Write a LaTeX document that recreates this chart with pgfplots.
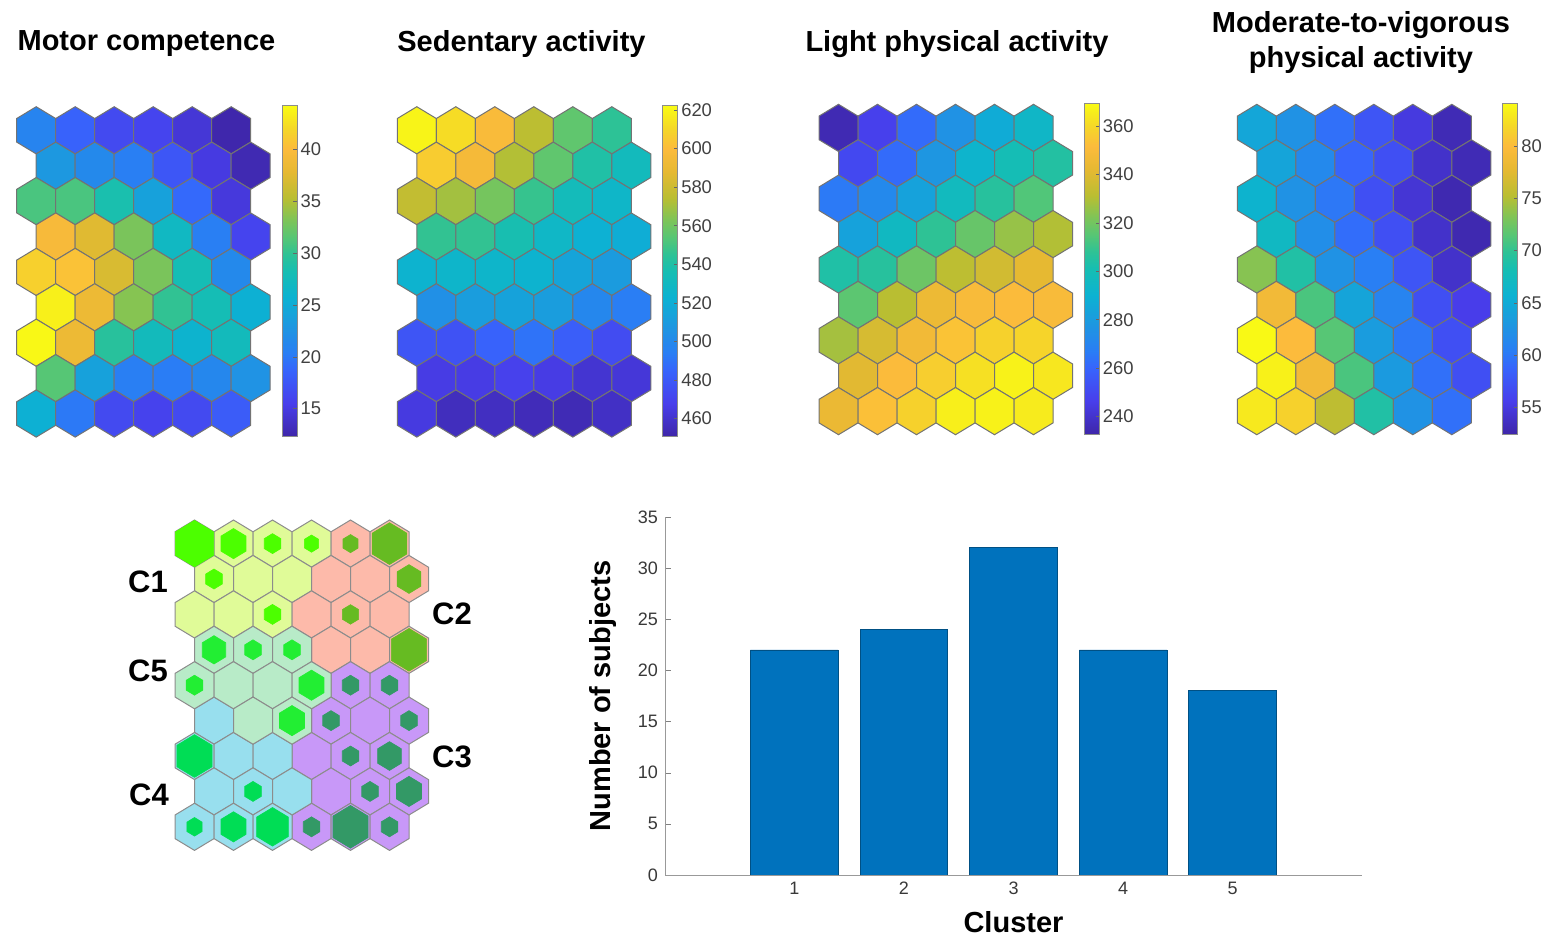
\documentclass[border=0pt]{standalone}
\usepackage{fontspec}
\setmainfont{Liberation Sans}
\usepackage{pgfplots}
\pgfplotsset{compat=1.18}
\usepackage{pgfplotstable}

\definecolor{matblue}{RGB}{0,114,189}
\definecolor{cA}{RGB}{224,251,152}
\definecolor{cB}{RGB}{253,186,170}
\definecolor{cC}{RGB}{200,152,248}
\definecolor{cD}{RGB}{152,223,238}
\definecolor{cE}{RGB}{184,235,200}
\definecolor{iA}{RGB}{76,255,0}
\definecolor{iB}{RGB}{102,187,34}
\definecolor{iC}{RGB}{51,153,102}
\definecolor{iD}{RGB}{0,221,85}
\definecolor{iE}{RGB}{34,238,51}

\pgfdeclareplotmark{hexagon}{%
 \pgfpathmoveto{\pgfqpoint{0pt}{1.21\pgfplotmarksize}}%
 \pgfpathlineto{\pgfqpoint{\pgfplotmarksize}{0.605\pgfplotmarksize}}%
 \pgfpathlineto{\pgfqpoint{\pgfplotmarksize}{-0.605\pgfplotmarksize}}%
 \pgfpathlineto{\pgfqpoint{0pt}{-1.21\pgfplotmarksize}}%
 \pgfpathlineto{\pgfqpoint{-\pgfplotmarksize}{-0.605\pgfplotmarksize}}%
 \pgfpathlineto{\pgfqpoint{-\pgfplotmarksize}{0.605\pgfplotmarksize}}%
 \pgfpathclose
 \pgfusepathqfillstroke}

\pgfplotsset{
 colormap={parula}{
  rgb255(0cm)=(62,38,168);
  rgb255(10cm)=(72,62,235);
  rgb255(20cm)=(55,100,252);
  rgb255(25cm)=(42,125,245);
  rgb255(33cm)=(30,150,225);
  rgb255(42cm)=(12,178,210);
  rgb255(50cm)=(22,190,178);
  rgb255(55cm)=(45,194,150);
  rgb255(60cm)=(85,198,118);
  rgb255(66cm)=(130,196,85);
  rgb255(72cm)=(185,190,50);
  rgb255(80cm)=(230,185,50);
  rgb255(87cm)=(252,187,60);
  rgb255(93cm)=(245,215,40);
  rgb255(100cm)=(249,251,20)
 },
 hexbase/.style={
  scale only axis, x=19.5pt, y=17.7pt, y dir=reverse,
  xmin=0.5, xmax=7, ymin=0.333, ymax=9.667,
  hide axis, clip=false, anchor=north west
 },
 hexcb/.style={
  hexbase, colormap name=parula, colorbar,
  colorbar style={
   at={(parent axis.north east)}, anchor=north west, xshift=-2.5pt, yshift=0.5pt,
   width=7.5pt, height=165.5pt,
   ytick pos=right, yticklabel pos=right, ytick align=inside,
   major tick length=2pt,
   axis line style={draw=black!45},
   tick style={draw=black!60},
   yticklabel style={font=\fontsize{9.2}{10}\selectfont, text=black!75, inner sep=1.5pt},
   /pgf/number format/assume math mode=true
  }
 },
 hexplot/.style={
  scatter, only marks, mark=hexagon, mark size=9.75pt, line width=0.5pt,
  point meta=explicit,
  scatter/use mapped color={draw=black!55, fill=mapped color}
 },
 innerhex/.style={
  scatter, only marks, mark=hexagon, line width=0.3pt,
  scatter/use mapped color={draw=#1, fill=#1},
  visualization depends on={\thisrow{s} \as \sz},
  scatter/@pre marker code/.append style={/tikz/mark size=\sz*9.6pt}
 }
}

\pgfplotstableread{
x y v
1 1 21
2 1 18.5
3 1 16.5
4 1 16
5 1 14.5
6 1 12.5
1.5 2 23
2.5 2 21.5
3.5 2 20.5
4.5 2 17.5
5.5 2 15
6.5 2 12.8
1 3 31
2 3 31
3 3 28.5
4 3 24
5 3 19
6 3 14.8
1.5 4 39.5
2.5 4 37.5
3.5 4 33
4.5 4 27
5.5 4 20.5
6.5 4 16
1 5 41.5
2 5 40.5
3 5 37
4 5 33
5 5 28
6 5 21.5
1.5 6 43.5
2.5 6 38.5
3.5 6 33.5
4.5 6 30
5.5 6 28
6.5 6 25.5
1 7 44
2 7 38.5
3 7 29.5
4 7 27.5
5 7 26
6 7 27.5
1.5 8 31.5
2.5 8 24
3.5 8 20.5
4.5 8 20.3
5.5 8 21.3
6.5 8 22.5
1 9 25.5
2 9 20
3 9 16.5
4 9 15.8
5 9 16.5
6 9 18
}\motor

\pgfplotstableread{
x y v
1 1 620
2 1 612
3 1 598
4 1 575
5 1 556
6 1 545
1.5 2 606
2.5 2 596
3.5 2 573
4.5 2 556
5.5 2 540
6.5 2 532
1 3 577
2 3 570
3 3 561
4 3 547
5 3 533
6 3 527
1.5 4 546
2.5 4 546
3.5 4 537
4.5 4 528
5.5 4 522
6.5 4 520
1 5 524
2 5 526
3 5 526
4 5 524
5 5 515
6 5 510
1.5 6 504
2.5 6 511
3.5 6 514
4.5 6 511
5.5 6 499
6.5 6 494
1 7 478
2 7 477
3 7 484
4 7 490
5 7 482
6 7 474
1.5 8 466
2.5 8 466
3.5 8 469
4.5 8 466
5.5 8 461
6.5 8 463
1 9 465
2 9 456
3 9 457
4 9 455
5 9 454
6 9 458
}\sedentary

\pgfplotstableread{
x y v
1 1 235
2 1 247
3 1 262
4 1 276
5 1 287
6 1 294
1.5 2 250
2.5 2 262
3.5 2 278
4.5 2 292
5.5 2 300
6.5 2 305
1 3 266
2 3 272
3 3 283
4 3 297
5 3 306
6 3 314
1.5 4 283
2.5 4 296
3.5 4 308
4.5 4 318
5.5 4 326
6.5 4 330
1 5 304
2 5 306
3 5 319
4 5 332
5 5 337
6 5 342
1.5 6 316
2.5 6 331
3.5 6 345
4.5 6 350
5.5 6 351
6.5 6 350
1 7 328
2 7 338
3 7 347
4 7 354
5 7 358
6 7 359
1.5 8 341
2.5 8 351
3.5 8 357
4.5 8 362
5.5 8 367
6.5 8 364
1 9 344
2 9 353
3 9 358
4 9 366
5 9 367
6 9 365
}\light

\pgfplotstableread{
x y v
1 1 64.5
2 1 62.5
3 1 59.5
4 1 57.5
5 1 55
6 1 53
1.5 2 64.3
2.5 2 61.5
3.5 2 58.8
4.5 2 57
5.5 2 54
6.5 2 53
1 3 66
2 3 62.5
3 3 60
4 3 57
5 3 54.5
6 3 52.8
1.5 4 67
2.5 4 62
3.5 4 59.3
4.5 4 57
5.5 4 54
6.5 4 52.8
1 5 73.5
2 5 69
3 5 62.5
4 5 60.5
5 5 57.5
6 5 54
1.5 6 79
2.5 6 71
3.5 6 64.3
4.5 6 61
5.5 6 57
6.5 6 55.5
1 7 84
2 7 80
3 7 71.5
4 7 63.5
5 7 60
6 7 57
1.5 8 83.5
2.5 8 79
3.5 8 71
4.5 8 63.3
5.5 8 59.5
6.5 8 57
1 9 83
2 9 81.5
3 9 75.5
4 9 69
5 9 62.5
6 9 59.5
}\mvpa

% cluster membership of the map units
\pgfplotstableread{
x y
1 1
2 1
3 1
4 1
1.5 2
2.5 2
3.5 2
1 3
2 3
3 3
}\clA
\pgfplotstableread{
x y
5 1
6 1
4.5 2
5.5 2
6.5 2
4 3
5 3
6 3
4.5 4
5.5 4
6.5 4
}\clB
\pgfplotstableread{
x y
5 5
6 5
4.5 6
5.5 6
6.5 6
4 7
5 7
6 7
4.5 8
5.5 8
6.5 8
4 9
5 9
6 9
}\clC
\pgfplotstableread{
x y
1.5 6
1 7
2 7
3 7
1.5 8
2.5 8
3.5 8
1 9
2 9
3 9
}\clD
\pgfplotstableread{
x y
1.5 4
2.5 4
3.5 4
1 5
2 5
3 5
4 5
2.5 6
3.5 6
}\clE
% relative size of the inner hexagons (hits)
\pgfplotstableread{
x y s
1 1 1.0
2 1 0.65
3 1 0.43
4 1 0.37
1.5 2 0.43
3 3 0.43
}\inA
\pgfplotstableread{
x y s
5 1 0.39
6 1 0.9
6.5 2 0.62
5 3 0.42
6.5 4 0.92
}\inB
\pgfplotstableread{
x y s
5 5 0.43
6 5 0.43
4.5 6 0.43
6.5 6 0.43
5 7 0.43
6 7 0.62
5.5 8 0.43
6.5 8 0.65
4 9 0.43
5 9 0.92
6 9 0.43
}\inC
\pgfplotstableread{
x y s
1 7 0.92
2.5 8 0.43
1 9 0.4
2 9 0.65
3 9 0.83
}\inD
\pgfplotstableread{
x y s
1.5 4 0.61
2.5 4 0.43
3.5 4 0.43
1 5 0.43
4 5 0.65
3.5 6 0.65
}\inE

\begin{document}
\begin{tikzpicture}
\path[use as bounding box] (0pt,0pt) rectangle (777pt,-470pt);

% titles
\node[font=\bfseries\fontsize{14.5}{16}\selectfont] at (73.25pt,-22pt) {Motor competence};
\node[font=\bfseries\fontsize{14.5}{16}\selectfont] at (260.75pt,-22pt) {Sedentary activity};
\node[font=\bfseries\fontsize{14.5}{16}\selectfont] at (478.5pt,-22pt) {Light physical activity};
\node[font=\bfseries\fontsize{14.5}{16}\selectfont] at (680.5pt,-12.5pt) {Moderate-to-vigorous};
\node[font=\bfseries\fontsize{14.5}{16}\selectfont] at (680.5pt,-30pt) {physical activity};

% Motor competence
\begin{axis}[hexcb, at={(8.35pt,-53.35pt)},
  point meta min=12.3, point meta max=44.2,
  colorbar style={ytick={15,20,25,30,35,40}}]
\addplot[hexplot] table[x=x,y=y,meta=v] {\motor};
\end{axis}

% Sedentary activity
\begin{axis}[hexcb, at={(198.65pt,-53.35pt)},
  point meta min=450.6, point meta max=622.2,
  colorbar style={ytick={460,480,...,620}}]
\addplot[hexplot] table[x=x,y=y,meta=v] {\sedentary};
\end{axis}

% Light physical activity
\begin{axis}[hexcb, at={(409.5pt,-52.15pt)},
  point meta min=232.7, point meta max=369.3,
  colorbar style={ytick={240,260,...,360}}]
\addplot[hexplot] table[x=x,y=y,meta=v] {\light};
\end{axis}

% MVPA
\begin{axis}[hexcb, at={(618.65pt,-52.15pt)},
  point meta min=52.4, point meta max=84.1,
  colorbar style={ytick={55,60,...,80}}]
\addplot[hexplot] table[x=x,y=y,meta=v] {\mvpa};
\end{axis}

% cluster map
\begin{axis}[hexbase, at={(87.5pt,-260pt)}]
\addplot[only marks, mark=hexagon, mark size=9.75pt, line width=0.5pt, mark options={fill=cA, draw=black!45}] table[x=x,y=y] {\clA};
\addplot[only marks, mark=hexagon, mark size=9.75pt, line width=0.5pt, mark options={fill=cB, draw=black!45}] table[x=x,y=y] {\clB};
\addplot[only marks, mark=hexagon, mark size=9.75pt, line width=0.5pt, mark options={fill=cC, draw=black!45}] table[x=x,y=y] {\clC};
\addplot[only marks, mark=hexagon, mark size=9.75pt, line width=0.5pt, mark options={fill=cD, draw=black!45}] table[x=x,y=y] {\clD};
\addplot[only marks, mark=hexagon, mark size=9.75pt, line width=0.5pt, mark options={fill=cE, draw=black!45}] table[x=x,y=y] {\clE};
\addplot[innerhex=iA] table[x=x,y=y] {\inA};
\addplot[innerhex=iB] table[x=x,y=y] {\inB};
\addplot[innerhex=iC] table[x=x,y=y] {\inC};
\addplot[innerhex=iD] table[x=x,y=y] {\inD};
\addplot[innerhex=iE] table[x=x,y=y] {\inE};
\end{axis}

\node[font=\bfseries\fontsize{15.5}{17}\selectfont] at (74pt,-291pt) {C1};
\node[font=\bfseries\fontsize{15.5}{17}\selectfont] at (74pt,-335.5pt) {C5};
\node[font=\bfseries\fontsize{15.5}{17}\selectfont] at (74.5pt,-397.5pt) {C4};
\node[font=\bfseries\fontsize{15.5}{17}\selectfont] at (226pt,-307pt) {C2};
\node[font=\bfseries\fontsize{15.5}{17}\selectfont] at (226pt,-378.5pt) {C3};

% bar chart
\begin{axis}[at={(332.5pt,-437.5pt)}, anchor=south west, scale only axis,
  width=348.5pt, height=179pt, ybar,
  xmin=-0.18, xmax=6.18, ymin=0, ymax=35,
  axis x line*=bottom, axis y line*=left,
  axis line style={draw=black!40, -},
  xtick={1,2,3,4,5}, ytick={0,5,...,35},
  tick align=inside, major tick length=3pt, tick style={draw=black!50},
  ticklabel style={font=\fontsize{9}{10}\selectfont, text=black!78},
  /pgf/number format/assume math mode=true,
  xlabel={Cluster}, ylabel={Number of subjects},
  label style={font=\bfseries\fontsize{14.5}{16}\selectfont},
  xlabel style={at={(axis description cs:0.5,-0.131)}, anchor=center},
  ylabel style={at={(axis description cs:-0.0886,0.5)}, anchor=center}]
\addplot[ybar, bar width=0.8, fill=matblue, draw=matblue!70!black, line width=0.4pt]
  coordinates {(1,22) (2,24) (3,32) (4,22) (5,18)};
\end{axis}
\end{tikzpicture}
\end{document}
